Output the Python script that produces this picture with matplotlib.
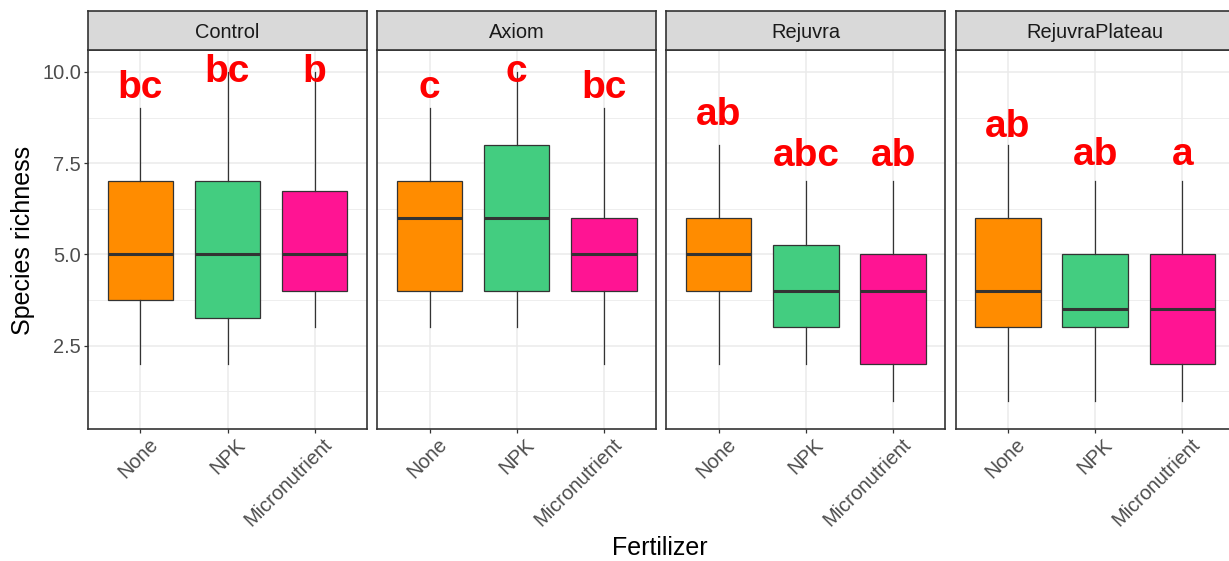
import matplotlib
matplotlib.use("Agg")
import matplotlib.pyplot as plt
from matplotlib.transforms import ScaledTranslation

plt.rcParams['font.family'] = ['Liberation Sans', 'DejaVu Sans']

panels = ["Control", "Axiom", "Rejuvra", "RejuvraPlateau"]
fertilizers = ["None", "NPK", "Micronutrient"]
colors = ["#FF8C00", "#43CD80", "#FF1493"]

# box stats per panel, in order None / NPK / Micronutrient
whisker_low = [[2, 2, 3], [3, 3, 2], [2, 2, 1], [1, 1, 1]]
q1 = [[3.75, 3.25, 4], [4, 4, 4], [4, 3, 2], [3, 3, 2]]
median = [[5, 5, 5], [6, 6, 5], [5, 4, 4], [4, 3.5, 3.5]]
q3 = [[7, 7, 6.75], [7, 8, 6], [6, 5.25, 5], [6, 5, 5]]
whisker_high = [[9, 10, 10], [9, 10, 9], [8, 7, 7], [8, 7, 7]]

# significance letters and their baseline heights
letters = [["bc", "bc", "b"], ["c", "c", "bc"], ["ab", "abc", "ab"], ["ab", "ab", "a"]]
letter_y = [[9.29, 9.73, 9.73], [9.29, 9.73, 9.29], [8.55, 7.42, 7.42], [8.23, 7.45, 7.45]]

yticks = [2.5, 5.0, 7.5, 10.0]
yminor = [1.25, 3.75, 6.25, 8.75]

W, H = 1229, 561
fig = plt.figure(figsize=(W / 100, H / 100), dpi=100)
shift = ScaledTranslation(0.08, -0.06, fig.dpi_scale_trans)

for i, name in enumerate(panels):
    left = 88 + 289.2 * i
    ax = fig.add_axes([left / W, (H - 429) / H, 279 / W, 379 / H])
    strip = fig.add_axes([left / W, (H - 50) / H, 279 / W, 39 / H])

    stats = []
    for j in range(3):
        stats.append(dict(med=median[i][j], q1=q1[i][j], q3=q3[i][j],
                          whislo=whisker_low[i][j], whishi=whisker_high[i][j]))
    bp = ax.bxp(stats, positions=[1, 2, 3], widths=0.75, patch_artist=True,
                showfliers=False, showcaps=False,
                boxprops=dict(edgecolor="#333333", linewidth=0.9),
                whiskerprops=dict(color="#333333", linewidth=0.9),
                medianprops=dict(color="#333333", linewidth=2.2, solid_capstyle="butt"))
    for patch, c in zip(bp["boxes"], colors):
        patch.set_facecolor(c)

    for j in range(3):
        ax.text(j + 1, letter_y[i][j], letters[i][j], color="red", fontsize=28,
                fontweight="bold", ha="center", va="baseline")
        # rotated category labels, nudged like ggplot's placement
        ax.text(j + 1, 0, fertilizers[j], transform=ax.get_xaxis_transform() + shift,
                rotation=45, ha="right", va="top", rotation_mode="anchor",
                fontsize=14.4, color="#4D4D4D")

    ax.set_xlim(0.4, 3.6)
    ax.set_ylim(0.22, 10.6)
    ax.set_xticks([1, 2, 3])
    ax.set_xticklabels([])
    ax.set_yticks(yticks)
    ax.set_yticks(yminor, minor=True)
    ax.set_yticklabels(["%.1f" % v for v in yticks], fontsize=14.4, color="#4D4D4D")
    ax.grid(which="major", color="#EBEBEB", linewidth=1.1)
    ax.grid(which="minor", axis="y", color="#EBEBEB", linewidth=0.6)
    ax.set_axisbelow(True)
    ax.tick_params(which="major", length=3, width=0.9, color="#333333", pad=2)
    ax.tick_params(which="minor", length=0)
    if i > 0:
        ax.tick_params(axis="y", left=False, labelleft=False)
    for s in ax.spines.values():
        s.set_color("#333333")
        s.set_linewidth(1.2)

    strip.set_facecolor("#D9D9D9")
    strip.set_xticks([])
    strip.set_yticks([])
    for s in strip.spines.values():
        s.set_color("#333333")
        s.set_linewidth(1.2)
    strip.text(0.5, 0.44, name, transform=strip.transAxes, ha="center", va="center",
               fontsize=14.4, color="#1A1A1A")

fig.text(23 / W, 1 - 240 / H, "Species richness", rotation=90, ha="center", va="center",
         fontsize=18)
fig.text(660 / W, 1 - 548 / H, "Fertilizer", ha="center", va="center", fontsize=18)

fig.savefig("out.png", dpi=100)
